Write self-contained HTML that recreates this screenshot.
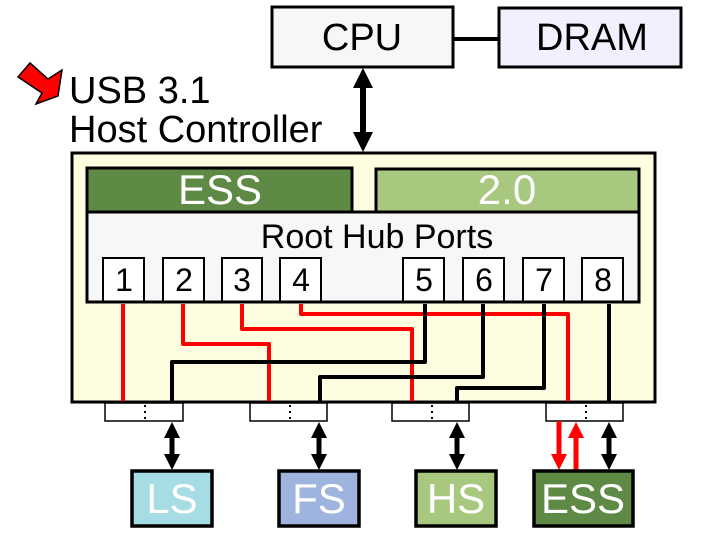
<!DOCTYPE html>
<html><head><meta charset="utf-8"><style>html,body{margin:0;padding:0;background:#fff;}svg{display:block;}</style></head>
<body>
<svg width="713" height="538" viewBox="0 0 713 538" xmlns="http://www.w3.org/2000/svg" font-family="Liberation Sans, Arial, sans-serif">
<!-- CPU / DRAM -->
<rect x="272" y="7" width="181" height="60" fill="#f7f7f7" stroke="#000" stroke-width="3"/>
<text x="362" y="50" font-size="38" text-anchor="middle">CPU</text>
<rect x="499" y="8" width="182" height="59" fill="#f0f0ff" stroke="#000" stroke-width="3"/>
<text x="592" y="50" font-size="38" text-anchor="middle">DRAM</text>
<line x1="453" y1="39" x2="499" y2="39" stroke="#000" stroke-width="4"/>
<polygon points="363,68 373,88 366,88 366,132 373,132 363,152 353,132 360,132 360,88 353,88" fill="#000"/>
<!-- label -->
<polygon points="18,77 30,63 48,79 62,70 58,96 36,104 42,93" fill="#f00" stroke="#000" stroke-width="1.5"/>
<text x="69" y="103" font-size="38">USB 3.1</text>
<text x="69" y="142" font-size="38">Host Controller</text>
<!-- host box -->
<rect x="72" y="153" width="583" height="249" fill="#fffde0" stroke="#000" stroke-width="3"/>
<rect x="87" y="168" width="265" height="44" fill="#5f8a45" stroke="#000" stroke-width="3"/>
<text x="220" y="204" font-size="42" fill="#fff" text-anchor="middle">ESS</text>
<rect x="376" y="169" width="263" height="43" fill="#a8c77f" stroke="#000" stroke-width="3"/>
<text x="507" y="204" font-size="42" fill="#fff" text-anchor="middle">2.0</text>
<rect x="87" y="212" width="552" height="90" fill="#f7f7f7" stroke="#000" stroke-width="3"/>
<text x="377" y="248" font-size="34" text-anchor="middle">Root Hub Ports</text>
<g fill="#fff" stroke="#000" stroke-width="2">
<rect x="103" y="258" width="41" height="44"/><rect x="163" y="258" width="41" height="44"/><rect x="222" y="258" width="40" height="44"/><rect x="280" y="258" width="41" height="44"/>
<rect x="403" y="258" width="41" height="44"/><rect x="463" y="258" width="41" height="44"/><rect x="523" y="258" width="41" height="44"/><rect x="582" y="258" width="41" height="44"/>
</g>
<line x1="87" y1="302" x2="639" y2="302" stroke="#000" stroke-width="3"/>
<g font-size="32" text-anchor="middle">
<text x="124" y="291">1</text><text x="184" y="291">2</text><text x="242" y="291">3</text><text x="301" y="291">4</text>
<text x="424" y="291">5</text><text x="484" y="291">6</text><text x="544" y="291">7</text><text x="603" y="291">8</text>
</g>
<!-- wires -->
<g fill="none" stroke-width="4" stroke-linejoin="round">
<polyline stroke="#f00" points="123,304 123,401"/>
<polyline stroke="#f00" points="183,304 183,344 269,344 269,401"/>
<polyline stroke="#f00" points="242,304 242,329 412,329 412,401"/>
<polyline stroke="#f00" points="301,304 301,314 568,314 568,401"/>
<polyline stroke="#000" points="425,304 425,362 172,362 172,401"/>
<polyline stroke="#000" points="483,304 483,377 320,377 320,401"/>
<polyline stroke="#000" points="544,304 544,388 457,388 457,401"/>
<polyline stroke="#000" points="609,304 609,401"/>
</g>
<!-- connectors -->
<g fill="#fff" stroke="#000" stroke-width="1.5">
<rect x="105" y="403" width="78" height="18"/><rect x="250" y="403" width="77" height="18"/><rect x="392" y="403" width="77" height="18"/><rect x="546" y="403" width="77" height="18"/>
</g>
<g stroke="#000" stroke-width="2" stroke-dasharray="2,4">
<line x1="145" y1="405" x2="145" y2="420"/><line x1="290" y1="405" x2="290" y2="420"/><line x1="432" y1="405" x2="432" y2="420"/><line x1="586" y1="405" x2="586" y2="420"/>
</g>
<g fill="#000">
<polygon points="172,422 180,438 174.5,438 174.5,454 180,454 172,470 164,454 169.5,454 169.5,438 164,438"/>
<polygon points="319,422 327,438 321.5,438 321.5,454 327,454 319,470 311,454 316.5,454 316.5,438 311,438"/>
<polygon points="457,422 465,438 459.5,438 459.5,454 465,454 457,470 449,454 454.5,454 454.5,438 449,438"/>
<polygon points="609,422 617,438 611.5,438 611.5,454 617,454 609,470 601,454 606.5,454 606.5,438 601,438"/>
</g>
<g fill="#f00">
<polygon points="556.5,421 561.5,421 561.5,454 567,454 559,470 551,454 556.5,454"/>
<polygon points="576,422 584,438 578.5,438 578.5,470 573.5,470 573.5,438 568,438"/>
</g>
<!-- devices -->
<g stroke="#000" stroke-width="3.5">
<rect x="132" y="471" width="80" height="55" fill="#a6dce3"/>
<rect x="279" y="471" width="80" height="55" fill="#9fb3df"/>
<rect x="416" y="471" width="80" height="55" fill="#a8c77f"/>
<rect x="534" y="471" width="99" height="55" fill="#5f8a45"/>
</g>
<g font-size="42" fill="#fff" text-anchor="middle">
<text x="172" y="513">LS</text><text x="319" y="513">FS</text><text x="456" y="513">HS</text><text x="583" y="513">ESS</text>
</g>
</svg>
</body></html>
